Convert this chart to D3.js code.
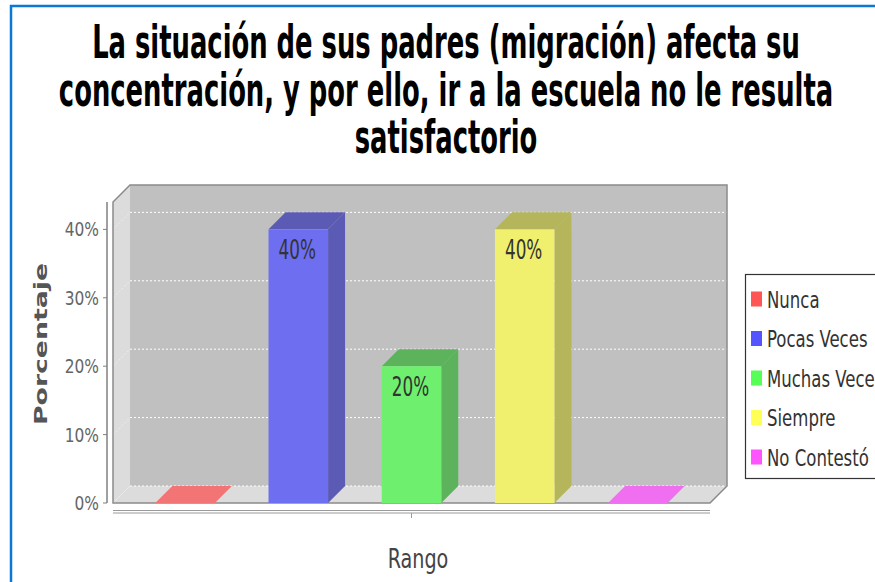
<!DOCTYPE html>
<html>
<head>
<meta charset="utf-8">
<script src="https://cdn.jsdelivr.net/npm/d3@7/dist/d3.min.js"></script>
<style>
  body { margin: 0; background: #fff; }
  svg { display: block; }
</style>
</head>
<body>
<svg></svg>
<script>
// data
const categories = ['Nunca', 'Pocas Veces', 'Muchas Veces', 'Siempre', 'No Contestó'];
const values = [0, 0.40, 0.20, 0.40, 0];
const yTicks = [0, 0.1, 0.2, 0.3, 0.4];
const titleLines = [
  'La situación de sus padres (migración) afecta su',
  'concentración, y por ello, ir a la escuela no le resulta',
  'satisfactorio'
];
const yLabel = 'Porcentaje';
const xLabel = 'Rango';

// colours
const frontColors = ['#f27474', '#6e6ef0', '#6ef06e', '#f0f06e', '#f06ef0'];
const sideColors  = ['#b45c5c', '#5b5bb5', '#5cb35c', '#b5b55b', '#b45bb4'];
const legendColors = ['#ff5555', '#5555ff', '#55ff55', '#ffff55', '#ff55ff'];

let width = 875;
let height = 582;
let font = "'DejaVu Sans Condensed', 'DejaVu Sans', sans-serif";

// plot geometry (front face) and 3D depth
let pLeft = 113, pRight = 710, pTop = 202, pBottom = 503;
let dx = 17, dy = 17;

let svg = d3.select('svg')
  .attr('width', width)
  .attr('height', height);

let x = d3.scaleBand()
  .domain(categories)
  .range([pLeft, pRight])
  .paddingInner(0.474)
  .paddingOuter(0.374);

let y = d3.scaleLinear()
  .domain([0, 0.44])
  .range([pBottom, pTop]);

let pct = d3.format('.0%');

// text squeezed horizontally (the reference is stretched vertically)
function squash(g, str, px, py, size, sx, anchor, fill, weight){
  return g.append('text')
    .attr('transform', `translate(${px},${py}) scale(${sx},1)`)
    .attr('text-anchor', anchor)
    .style('font-family', font)
    .style('font-size', size + 'px')
    .style('font-weight', weight || 'normal')
    .attr('fill', fill)
    .text(str);
}

// outer frame (blue border at top and left)
svg.append('path')
  .attr('d', `M11,${height} L11,6 L${width},6`)
  .attr('fill', 'none')
  .attr('stroke', '#0a78d7')
  .attr('stroke-width', 2.5);

// title
let titleG = svg.append('g');
let titleTexts = titleLines.map((line, i) =>
  squash(titleG, line, 446, 58 + i * 47.5, 46, 1, 'middle', '#000', 'bold'));
let sxTitle = 708 / titleTexts[0].node().getComputedTextLength();
titleTexts.forEach((t, i) =>
  t.attr('transform', `translate(446,${58 + i * 47.5}) scale(${sxTitle},1)`));

// walls and floor
let plot = svg.append('g');
plot.append('rect')
  .attr('x', pLeft + dx).attr('y', pTop - dy)
  .attr('width', pRight - pLeft).attr('height', pBottom - pTop)
  .attr('fill', '#c0c0c0');
plot.append('path')
  .attr('d', `M${pLeft},${pBottom} L${pLeft},${pTop} L${pLeft + dx},${pTop - dy} L${pLeft + dx},${pBottom - dy} Z`)
  .attr('fill', '#dcdcdc');
plot.append('path')
  .attr('d', `M${pLeft},${pBottom} L${pRight},${pBottom} L${pRight + dx},${pBottom - dy} L${pLeft + dx},${pBottom - dy} Z`)
  .attr('fill', '#dcdcdc');

// gridlines
yTicks.forEach(t => {
  plot.append('line')
    .attr('x1', pLeft + dx).attr('x2', pRight + dx)
    .attr('y1', y(t) - dy).attr('y2', y(t) - dy)
    .attr('stroke', '#fff')
    .attr('stroke-width', 1)
    .attr('stroke-dasharray', '2,2');
  plot.append('line')
    .attr('x1', pLeft).attr('x2', pLeft + dx)
    .attr('y1', y(t)).attr('y2', y(t) - dy)
    .attr('stroke', '#eeeeee')
    .attr('stroke-width', 1)
    .attr('stroke-dasharray', '2,2');
});

// outline
plot.append('path')
  .attr('d', `M${pLeft},${pBottom} L${pLeft},${pTop} L${pLeft + dx},${pTop - dy} L${pRight + dx},${pTop - dy} L${pRight + dx},${pBottom - dy} L${pRight},${pBottom} Z`)
  .attr('fill', 'none')
  .attr('stroke', '#8a8a8a')
  .attr('stroke-width', 1.5);

// bars
let bars = plot.selectAll('.bar')
  .data(categories.map((c, i) => ({ cat: c, v: values[i], i: i })))
  .enter()
  .append('g')
  .classed('bar', true);

bars.each(function(d){
  let g = d3.select(this);
  let x0 = x(d.cat), x1 = x(d.cat) + x.bandwidth();
  let yv = y(d.v);
  g.append('path')
    .attr('d', `M${x1},${yv} L${x1 + dx},${yv - dy} L${x1 + dx},${pBottom - dy} L${x1},${pBottom} Z`)
    .attr('fill', d.v > 0 ? sideColors[d.i] : frontColors[d.i]);
  g.append('path')
    .attr('d', `M${x0},${yv} L${x0 + dx},${yv - dy} L${x1 + dx},${yv - dy} L${x1},${yv} Z`)
    .attr('fill', d.v > 0 ? sideColors[d.i] : frontColors[d.i]);
  g.append('rect')
    .attr('x', x0).attr('y', yv)
    .attr('width', x.bandwidth()).attr('height', pBottom - yv)
    .attr('fill', frontColors[d.i]);
  if(d.v > 0){
    squash(g, pct(d.v), x0 + 10, yv + 30, 26, 0.72, 'start', '#333');
  }
});

// y axis
let yAxis = svg.append('g');
yAxis.append('line')
  .attr('x1', 107).attr('x2', 107)
  .attr('y1', pTop).attr('y2', pBottom)
  .attr('stroke', '#808080').attr('stroke-width', 1.5);
yTicks.forEach(t => {
  yAxis.append('line')
    .attr('x1', 103).attr('x2', 107)
    .attr('y1', y(t)).attr('y2', y(t))
    .attr('stroke', '#808080');
  squash(yAxis, pct(t), 99, y(t) + 7, 19.5, 0.88, 'end', '#666');
});

// x axis
let xAxis = svg.append('g');
xAxis.append('line')
  .attr('x1', pLeft).attr('x2', pRight)
  .attr('y1', 510.5).attr('y2', 510.5)
  .attr('stroke', '#9a9a9a');
xAxis.append('line')
  .attr('x1', pLeft).attr('x2', pRight)
  .attr('y1', 513).attr('y2', 513)
  .attr('stroke', '#9a9a9a');
xAxis.append('line')
  .attr('x1', (pLeft + pRight) / 2).attr('x2', (pLeft + pRight) / 2)
  .attr('y1', 513).attr('y2', 518)
  .attr('stroke', '#9a9a9a');

// axis titles
squash(svg, xLabel, 418, 568, 26, 0.82, 'middle', '#444');
svg.append('text')
  .attr('transform', 'translate(47,344) rotate(-90)')
  .attr('text-anchor', 'middle')
  .attr('textLength', 162)
  .attr('lengthAdjust', 'spacingAndGlyphs')
  .style('font-family', "'DejaVu Sans', sans-serif")
  .style('font-size', '18px')
  .style('font-weight', 'bold')
  .attr('fill', '#555')
  .text(yLabel);

// legend
let ly = d3.scalePoint().domain(categories).range([299, 457]);
let legend = svg.append('g');
legend.append('rect')
  .attr('x', 745.5).attr('y', 274.5)
  .attr('width', 200).attr('height', 204)
  .attr('fill', '#fff')
  .attr('stroke', '#333')
  .attr('stroke-width', 1.2);
categories.forEach((c, i) => {
  legend.append('rect')
    .attr('x', 751).attr('y', ly(c) - 7.5)
    .attr('width', 11).attr('height', 15)
    .attr('fill', legendColors[i]);
  squash(legend, c, 767, ly(c) + 8.5, 23, 0.8, 'start', '#333');
});
</script>
</body>
</html>
